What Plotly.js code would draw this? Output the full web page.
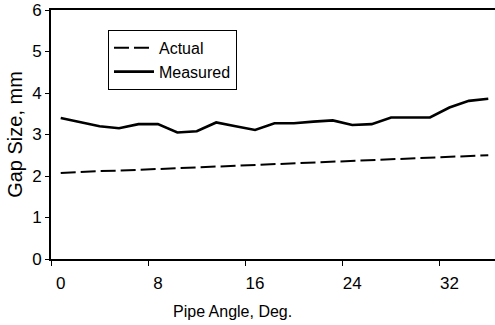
<!DOCTYPE html>
<html>
<head>
<meta charset="utf-8">
<script src="https://cdn.plot.ly/plotly-3.0.1.min.js"></script>
<style>html,body{margin:0;padding:0;overflow:hidden;background:#fff;}#chart{width:498px;height:325px;}</style>
</head>
<body>
<div id="chart"></div>
<script>
// Pipe angle categories (deg), 1.6 deg steps
const angles = ["0","1.6","3.2","4.8","6.4","8","9.6","11.2","12.8","14.4","16","17.6","19.2","20.8","22.4","24","25.6","27.2","28.8","30.4","32","33.6","35.2"];
// Gap size, mm
const actual = [2.07,2.10,2.12,2.13,2.15,2.17,2.18,2.20,2.22,2.24,2.26,2.28,2.30,2.32,2.35,2.37,2.38,2.40,2.42,2.44,2.46,2.48,2.50];
const measured = [3.40,3.30,3.20,3.15,3.25,3.25,3.05,3.08,3.29,3.20,3.11,3.27,3.27,3.31,3.34,3.23,3.25,3.41,3.41,3.41,3.65,3.81,3.86];
const yTicks = [0,1,2,3,4,5,6];
const xTitle = "Pipe Angle, Deg.";
const yTitle = "Gap Size, mm";

const font = "Liberation Sans, Arial, Helvetica, sans-serif";
const traces = [
  {x: angles, y: actual, name: "Actual", type: "scatter", mode: "lines",
   line: {color: "#000", width: 2, dash: "15px,5px"}},
  {x: angles, y: measured, name: "Measured", type: "scatter", mode: "lines",
   line: {color: "#000", width: 2.6}}
];
const layout = {
  width: 498, height: 325,
  margin: {l: 51, r: 0, t: 10, b: 66},
  paper_bgcolor: "#fff", plot_bgcolor: "#fff",
  font: {family: font, color: "#000", size: 15},
  showlegend: true,
  legend: {x: 0.1275, y: 0.92, xanchor: "left", yanchor: "top",
    bordercolor: "#000", borderwidth: 1, bgcolor: "#fff", itemwidth: 40,
    font: {family: font, size: 16, color: "#000"}},
  xaxis: {type: "category", range: [-0.5, 22.5], tickson: "boundaries", dtick: 5, tick0: 0,
    tickangle: 0, ticklabelstandoff: 8,
    showgrid: false, zeroline: false, showline: true, linecolor: "#000", linewidth: 2,
    mirror: true, ticks: "outside", ticklen: 5, tickcolor: "#000", tickwidth: 1,
    tickfont: {family: font, size: 17}},
  yaxis: {range: [0, 6], tickvals: yTicks, showgrid: false, zeroline: false,
    showline: true, linecolor: "#000", linewidth: 2, ticks: "outside", ticklen: 4,
    tickcolor: "#000", tickwidth: 1, tickfont: {family: font, size: 17},
    title: {text: yTitle, font: {family: font, size: 20}, standoff: 4}},
  annotations: [{text: xTitle, xref: "paper", yref: "paper", x: 0.407, y: -0.21,
    xanchor: "center", yanchor: "middle", showarrow: false,
    font: {family: font, size: 16, color: "#000"}}]
};
Plotly.newPlot("chart", traces, layout, {displayModeBar: false, staticPlot: true});
</script>
</body>
</html>
